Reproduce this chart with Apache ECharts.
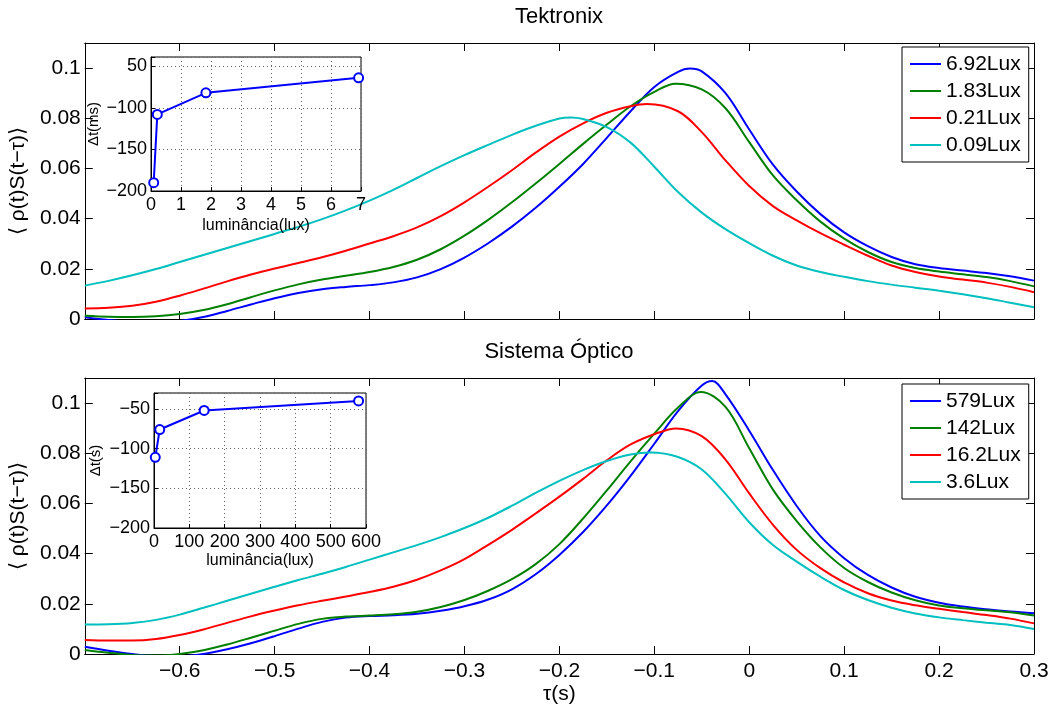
<!DOCTYPE html>
<html><head><meta charset="utf-8">
<script src="https://cdn.jsdelivr.net/npm/echarts@6.0.0/dist/echarts.min.js"></script>
<style>html,body{margin:0;padding:0;background:#fff}#c{width:1054px;height:708px}</style>
</head><body><div id="c"></div>
<script>
// ---------- data ----------
const tau = [-0.7, -0.675, -0.65, -0.625, -0.6, -0.575, -0.55, -0.525, -0.5, -0.475, -0.45, -0.425, -0.4, -0.375, -0.35, -0.325, -0.3, -0.275, -0.25, -0.225, -0.2, -0.175, -0.15, -0.125, -0.1, -0.075, -0.05, -0.025, 0, 0.025, 0.05, 0.075, 0.1, 0.125, 0.15, 0.175, 0.2, 0.225, 0.25, 0.275, 0.3];

const topNames = ['6.92Lux', '1.83Lux', '0.21Lux', '0.09Lux'];
const blueTop = [0.0007, -0.0004, -0.0012, -0.0014, -0.0008, 0.0008, 0.0032, 0.0058, 0.0083, 0.0104, 0.0119, 0.0128, 0.0135, 0.0146, 0.0166, 0.0199, 0.0245, 0.0302, 0.0368, 0.0443, 0.0527, 0.0618, 0.0722, 0.0828, 0.0925, 0.0985, 0.0987, 0.0900, 0.0755, 0.0615, 0.0508, 0.0418, 0.0345, 0.029, 0.0247, 0.0218, 0.0203, 0.0193, 0.0183, 0.017, 0.0153];
const greenTop = [0.0013, 0.0009, 0.0008, 0.0011, 0.002, 0.0036, 0.0059, 0.0087, 0.0114, 0.0138, 0.0157, 0.0172, 0.0187, 0.0207, 0.0236, 0.0278, 0.0332, 0.0395, 0.0465, 0.054, 0.0618, 0.0698, 0.0775, 0.0848, 0.0905, 0.0935, 0.0915, 0.084, 0.0705, 0.0572, 0.0473, 0.0388, 0.032, 0.0267, 0.0227, 0.0203, 0.0189, 0.0178, 0.0167, 0.0151, 0.013];
const redTop = [0.0042, 0.0045, 0.0053, 0.0069, 0.0093, 0.0121, 0.015, 0.0177, 0.0201, 0.0223, 0.0246, 0.0272, 0.0301, 0.033, 0.0365, 0.041, 0.0465, 0.0527, 0.0593, 0.0663, 0.0727, 0.078, 0.0822, 0.0848, 0.0855, 0.0828, 0.0745, 0.0632, 0.053, 0.045, 0.0393, 0.0342, 0.0296, 0.0252, 0.0213, 0.0187, 0.0169, 0.0157, 0.0145, 0.0128, 0.0107];
const cyanTop = [0.0133, 0.0152, 0.0174, 0.0199, 0.0227, 0.0255, 0.0283, 0.0311, 0.0339, 0.0367, 0.0398, 0.0433, 0.0472, 0.0515, 0.0562, 0.0609, 0.0653, 0.0694, 0.0734, 0.077, 0.0799, 0.0797, 0.0765, 0.0703, 0.0607, 0.0506, 0.0424, 0.0358, 0.0302, 0.0252, 0.0213, 0.0187, 0.0168, 0.0151, 0.0137, 0.0125, 0.0113, 0.0099, 0.0083, 0.0065, 0.0047];
// peak points [tau, value]
const blueTopPeak = [-0.0625, 0.0998];
const greenTopPeak = [-0.078, 0.0938];
const redTopPeak = [-0.108, 0.0857];
const cyanTopPeak = [-0.188, 0.0803];

const botNames = ['579Lux', '142Lux', '16.2Lux', '3.6Lux'];
const blueBot = [0.0029, 0.0013, 0.0, -0.0008, -0.0009, 0.0, 0.0019, 0.0043, 0.0071, 0.0101, 0.0128, 0.0145, 0.0151, 0.0154, 0.016, 0.0172, 0.019, 0.0217, 0.0258, 0.0318, 0.0395, 0.0486, 0.0592, 0.071, 0.0838, 0.0968, 0.107, 0.1035, 0.089, 0.0733, 0.059, 0.047, 0.0382, 0.0315, 0.0265, 0.0228, 0.0204, 0.0189, 0.0178, 0.0169, 0.0162];
const greenBot = [0.0016, 0.0005, -0.0004, -0.0006, 0.0, 0.0015, 0.0038, 0.0065, 0.0093, 0.012, 0.014, 0.0149, 0.0153, 0.0158, 0.0168, 0.0187, 0.0215, 0.0252, 0.0298, 0.0358, 0.0438, 0.054, 0.0652, 0.0768, 0.0878, 0.0982, 0.1042, 0.0985, 0.082, 0.0655, 0.053, 0.0425, 0.0343, 0.0287, 0.0245, 0.0214, 0.0193, 0.0182, 0.0174, 0.0166, 0.0153];
const redBot = [0.0056, 0.0054, 0.0054, 0.006, 0.0076, 0.0098, 0.0124, 0.015, 0.0173, 0.0194, 0.0212, 0.0229, 0.0247, 0.0268, 0.0296, 0.0333, 0.0378, 0.0435, 0.0495, 0.056, 0.0627, 0.0698, 0.0772, 0.0835, 0.0876, 0.0897, 0.0868, 0.0775, 0.064, 0.0515, 0.0415, 0.0342, 0.0285, 0.0242, 0.0213, 0.0194, 0.018, 0.0167, 0.0155, 0.0141, 0.0122];
const cyanBot = [0.0118, 0.0119, 0.0124, 0.0136, 0.0157, 0.0184, 0.0212, 0.024, 0.0268, 0.0295, 0.032, 0.0347, 0.0376, 0.0405, 0.0434, 0.0466, 0.0502, 0.0543, 0.0591, 0.0642, 0.069, 0.0733, 0.0769, 0.0795, 0.0802, 0.0785, 0.0735, 0.0638, 0.0525, 0.0434, 0.0368, 0.0308, 0.0255, 0.0215, 0.0184, 0.0161, 0.0146, 0.0135, 0.0125, 0.0116, 0.01];
const blueBotPeak = [-0.039, 0.1088];
const greenBotPeak = [-0.051, 0.1044];
const redBotPeak = [-0.077, 0.0899];
const cyanBotPeak = [-0.104, 0.0803];

// insets
const insetTopLux = [0.09, 0.21, 1.83, 6.92];
const insetTopDt = [-190, -108, -82, -64];
const insetBotLux = [3.6, 16.2, 142, 579];
const insetBotDt = [-111, -76, -52, -40];

// tick labels
const mainXTicks = [-0.6, -0.5, -0.4, -0.3, -0.2, -0.1, 0, 0.1, 0.2, 0.3];
const mainXLabels = ['−0.6', '−0.5', '−0.4', '−0.3', '−0.2', '−0.1', '0', '0.1', '0.2', '0.3'];
const mainYTicks = [0, 0.02, 0.04, 0.06, 0.08, 0.1];
const mainYLabels = ['0', '0.02', '0.04', '0.06', '0.08', '0.1'];
const insetTopXTicks = [0, 1, 2, 3, 4, 5, 6, 7];
const insetTopXLabels = ['0', '1', '2', '3', '4', '5', '6', '7'];
const insetTopYTicks = [-200, -150, -100, -50];
const insetTopYLabels = ['−200', '−150', '−100', '50'];
const insetBotXTicks = [0, 100, 200, 300, 400, 500, 600];
const insetBotXLabels = ['0', '100', '200', '300', '400', '500', '600'];
const insetBotYTicks = [-200, -150, -100, -50];
const insetBotYLabels = ['−200', '−150', '−100', '−50'];

const colors = ['#0000ff', '#008000', '#ff0000', '#00bfbf'];

// ---------- helpers ----------
const FONT = '"Liberation Sans", Arial, Helvetica, sans-serif';
function fmt(ticks, labels) {
  return function (v) {
    for (let i = 0; i < ticks.length; i++) {
      if (Math.abs(v - ticks[i]) < 1e-7 * Math.max(1, Math.abs(ticks[i]))) return labels[i];
    }
    return '';
  };
}
function pairs(xs, ys) { return xs.map((x, i) => [x, ys[i]]); }
function withPeak(xs, ys, peak) {
  const out = [];
  xs.forEach((x, i) => { if (Math.abs(x - peak[0]) > 0.009) out.push([x, ys[i]]); });
  out.push(peak.slice());
  out.sort((a, b) => a[0] - b[0]);
  return out;
}

const txt = (size) => ({ color: '#000', fontSize: size, fontFamily: FONT });

function mainX(g, pos, showLabels) {
  return {
    gridIndex: g, type: 'value', position: pos, min: -0.7, max: 0.3, interval: 0.1,
    axisLine: { show: true, onZero: false, lineStyle: { color: '#000', width: 1 } },
    axisTick: { show: true, inside: true, length: 8, lineStyle: { color: '#000', width: 1 } },
    axisLabel: Object.assign({ show: showLabels, margin: 7, formatter: fmt(mainXTicks, mainXLabels) }, txt(21)),
    splitLine: { show: false },
    name: showLabels ? 'τ(s)' : '', nameLocation: 'middle', nameGap: 30,
    nameTextStyle: txt(21)
  };
}
function mainY(g, pos, showLabels) {
  return {
    gridIndex: g, type: 'value', position: pos, min: 0, max: 0.11, interval: 0.02,
    axisLine: { show: true, onZero: false, lineStyle: { color: '#000', width: 1 } },
    axisTick: { show: true, inside: true, length: 8, lineStyle: { color: '#000', width: 1 } },
    axisLabel: Object.assign({ show: showLabels, margin: 4, formatter: fmt(mainYTicks, mainYLabels) }, txt(21)),
    splitLine: { show: false },
    name: showLabels ? '⟨ ρ(t)S(t−τ)⟩' : '', nameLocation: 'middle', nameRotate: 90, nameGap: 54,
    nameTextStyle: txt(21)
  };
}
const dotted = { show: true, lineStyle: { color: '#666', width: 1, type: [1, 3] } };
function insetX(g, min, max, interval, ticks, labels, gap) {
  return {
    gridIndex: g, type: 'value', min: min, max: max, interval: interval, z: 11,
    axisLine: { show: true, onZero: false, lineStyle: { color: '#000', width: 1 } },
    axisTick: { show: true, inside: true, length: 4, lineStyle: { color: '#000' } },
    axisLabel: Object.assign({ margin: 5, formatter: fmt(ticks, labels) }, txt(18)),
    splitLine: dotted,
    name: 'luminância(lux)', nameLocation: 'middle', nameGap: gap, nameTextStyle: txt(16)
  };
}
function insetY(g, max, ticks, labels, name, gap) {
  return {
    gridIndex: g, type: 'value', min: -200, max: max, interval: 50, z: 11,
    axisLine: { show: true, onZero: false, lineStyle: { color: '#000', width: 1 } },
    axisTick: { show: true, inside: true, length: 4, lineStyle: { color: '#000' } },
    axisLabel: Object.assign({ margin: 4, formatter: fmt(ticks, labels) }, txt(18)),
    splitLine: dotted,
    name: name, nameLocation: 'middle', nameRotate: 90, nameGap: gap, nameTextStyle: txt(15)
  };
}
function mainSeries(name, data, color, axisIdx) {
  return {
    type: 'line', name: name, xAxisIndex: axisIdx, yAxisIndex: axisIdx,
    data: data, showSymbol: false, symbol: 'none', smooth: 0.35,
    lineStyle: { color: color, width: 2 }, itemStyle: { color: color }, z: 2, silent: true
  };
}
function insetSeries(xs, ys, axisIdx) {
  return {
    type: 'line', xAxisIndex: axisIdx, yAxisIndex: axisIdx, data: pairs(xs, ys),
    symbol: 'emptyCircle', symbolSize: 9, showSymbol: true,
    itemStyle: { color: '#0000ff', borderColor: '#0000ff', borderWidth: 2 },
    lineStyle: { color: '#0000ff', width: 2 }, z: 12, silent: true
  };
}
function legend(names, top) {
  return {
    data: names, orient: 'vertical', left: 902, top: top, icon: 'rect',
    itemWidth: 31, itemHeight: 2, itemGap: 5, padding: [6, 8, 6, 8],
    backgroundColor: '#fff', borderColor: '#000', borderWidth: 1,
    textStyle: Object.assign({ lineHeight: 22 }, txt(21)),
    selectedMode: false
  };
}

const topData = [blueTop, greenTop, redTop, cyanTop];
const topPeaks = [blueTopPeak, greenTopPeak, redTopPeak, cyanTopPeak];
const botData = [blueBot, greenBot, redBot, cyanBot];
const botPeaks = [blueBotPeak, greenBotPeak, redBotPeak, cyanBotPeak];
const series = [];
topNames.forEach((n, i) => series.push(mainSeries(n, withPeak(tau, topData[i], topPeaks[i]), colors[i], 0)));
botNames.forEach((n, i) => series.push(mainSeries(n, withPeak(tau, botData[i], botPeaks[i]), colors[i], 2)));
series.push(insetSeries(insetTopLux, insetTopDt, 4));
series.push(insetSeries(insetBotLux, insetBotDt, 5));

const option = {
  animation: false,
  backgroundColor: '#fff',
  grid: [
    { left: 84, top: 43, width: 950, height: 276 },
    { left: 84, top: 378, width: 950, height: 276 },
    { left: 151, top: 57, width: 210, height: 134, show: true, backgroundColor: '#fff', borderColor: '#000', borderWidth: 1, z: 10 },
    { left: 154, top: 393, width: 212, height: 135, show: true, backgroundColor: '#fff', borderColor: '#000', borderWidth: 1, z: 10 }
  ],
  xAxis: [
    mainX(0, 'bottom', false), mainX(0, 'top', false),
    mainX(1, 'bottom', true), mainX(1, 'top', false),
    insetX(2, 0, 7, 1, insetTopXTicks, insetTopXLabels, 27),
    insetX(3, 0, 600, 100, insetBotXTicks, insetBotXLabels, 25)
  ],
  yAxis: [
    mainY(0, 'left', true), mainY(0, 'right', false),
    mainY(1, 'left', true), mainY(1, 'right', false),
    insetY(2, -39, insetTopYTicks, insetTopYLabels, 'Δt(ms)', 50),
    insetY(3, -30, insetBotYTicks, insetBotYLabels, 'Δt(s)', 51)
  ],
  legend: [legend(topNames, 47), legend(botNames, 384)],
  graphic: [
    { type: 'text', x: 559, y: 6, style: { text: 'Tektronix', textAlign: 'center', textVerticalAlign: 'top', fill: '#000', font: '22px ' + FONT } },
    { type: 'text', x: 559, y: 341, style: { text: 'Sistema Óptico', textAlign: 'center', textVerticalAlign: 'top', fill: '#000', font: '22px ' + FONT } }
  ],
  series: series
};

const chart = echarts.init(document.getElementById('c'), null, { renderer: 'canvas' });
chart.setOption(option);
</script></body></html>
